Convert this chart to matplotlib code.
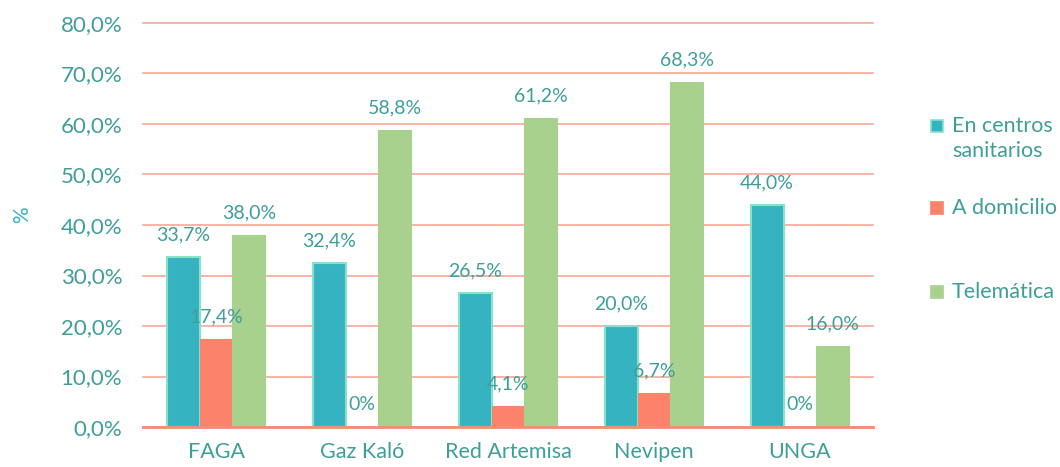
import matplotlib
matplotlib.use("Agg")
import matplotlib.pyplot as plt
from matplotlib.patches import Rectangle
import numpy as np

categories = ["FAGA", "Gaz Kaló", "Red Artemisa", "Nevipen", "UNGA"]
series_names = ["En centros\nsanitarios", "A domicilio", "Telemática"]
centros = [33.7, 32.4, 26.5, 20.0, 44.0]
domicilio = [17.4, 0.0, 4.1, 6.7, 0.0]
telematica = [38.0, 58.8, 61.2, 68.3, 16.0]
yticks = [0, 10, 20, 30, 40, 50, 60, 70, 80]

colors = ["#35B3C1", "#FC836B", "#A9D18E"]
edges = ["#86E3C8", "#FC836B", "#A9D18E"]
text_color = "#3F9E9A"
grid_color = "#F9A797"

plt.rcParams['font.family'] = ['Lato', 'DejaVu Sans']

fig = plt.figure(figsize=(10.6, 4.67), dpi=100)
ax = fig.add_axes([143/1060, 1-427/467, 730/1060, 404/467])

x = np.arange(len(categories))
w = 0.225
data = [centros, domicilio, telematica]
for i, (vals, c, e) in enumerate(zip(data, colors, edges)):
    pos = x + (i - 1) * w
    lw = 1.5 if i == 0 else 0.8
    ax.bar(pos, vals, width=w, color=c, edgecolor=e, linewidth=lw, zorder=3)
    for p, v in zip(pos, vals):
        lab = "0%" if v == 0 else f"{v:.1f}%".replace(".", ",")
        ax.annotate(lab, (p, v), xytext=(0, 16), textcoords="offset points",
                    ha="center", va="center", fontsize=14, color=text_color, zorder=4)

ax.set_xlim(-0.5, len(categories) - 0.5)
ax.set_ylim(0, 80)
ax.set_yticks(yticks)
ax.set_yticklabels([f"{t:.1f}%".replace(".", ",") for t in yticks])
ax.set_xticks(x)
ax.set_xticklabels(categories)
ax.tick_params(axis="y", length=0, pad=15, labelsize=16, labelcolor=text_color)
ax.tick_params(axis="x", length=0, pad=11, labelsize=15.5, labelcolor=text_color)
ax.yaxis.grid(True, color=grid_color, linewidth=1.2, zorder=0)
for gl in ax.get_ygridlines():
    gl.set_clip_on(False)
ax.set_axisbelow(True)
for s in ["top", "right", "left"]:
    ax.spines[s].set_visible(False)
ax.spines["bottom"].set_color("#F88A74")
ax.spines["bottom"].set_linewidth(2)
ax.spines["bottom"].set_zorder(5)
ax.set_ylabel("%", color="#35B3C1", fontsize=15)
ax.yaxis.set_label_coords((32 - 143) / 730, (427 - 215) / 404)

# legend
leg_y = [126, 208, 292]
for name, c, e, yy in zip(series_names, colors, edges, leg_y):
    fig.patches.append(Rectangle((931/1060, 1-(yy+6)/467), 12/1060, 12/467,
                                 transform=fig.transFigure, facecolor=c,
                                 edgecolor=e, linewidth=1.2))
    fig.text(952/1060, 1-(yy-10)/467, name, ha="left", va="top",
             fontsize=15.5, color=text_color, linespacing=1.3)

fig.savefig("out.png", dpi=100)
